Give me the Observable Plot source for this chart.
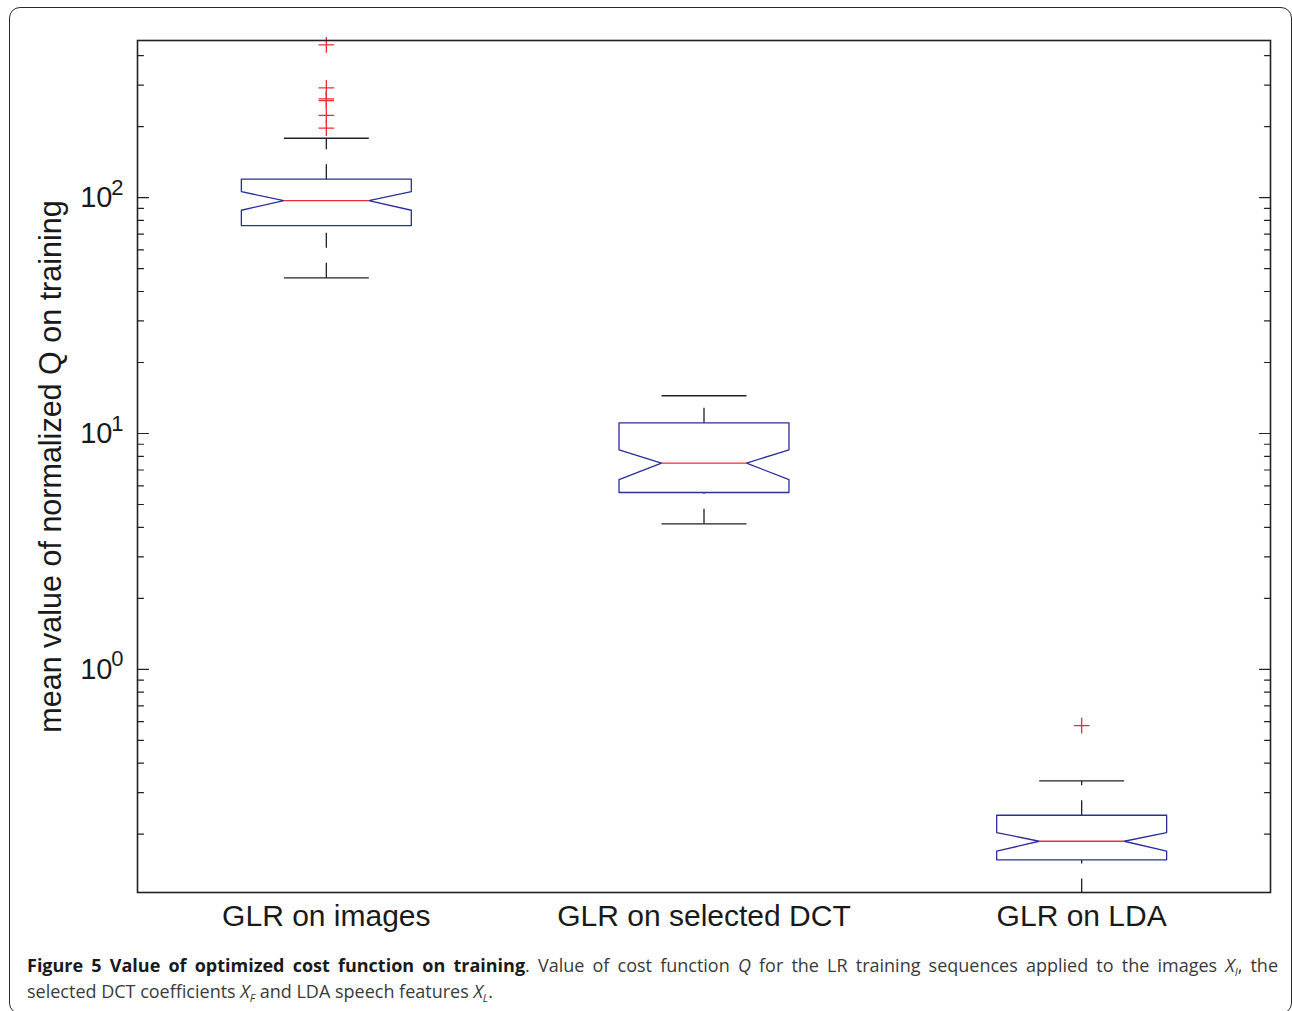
<!DOCTYPE html>
<html>
<head>
<meta charset="utf-8">
<script src="https://cdn.jsdelivr.net/npm/d3@7"></script>
<script src="https://cdn.jsdelivr.net/npm/@observablehq/plot@0.6"></script>
<style>
  body { margin: 0; background: #fff; }
  #wrap { position: relative; width: 1292px; height: 1011px; overflow: hidden; background: #fff; }
  #border { position: absolute; left: 9px; top: 7px; width: 1283px; height: 1007px; border: 1.6px solid #2a2a2a; border-radius: 11px; box-sizing: border-box; }
  #chart { position: absolute; left: 0; top: 0; }
  #caption { position: absolute; left: 27px; top: 952px; width: 1251px; font-family: "Open Sans", "Noto Sans", sans-serif; font-size: 18px; color: #3a3a3a; line-height: 26px; }
  #caption .l1 { text-align: justify; text-align-last: justify; }
  #caption b { color: #1a1a1a; font-weight: 700; }
  #caption sub { font-size: 11px; vertical-align: -4px; line-height: 0; }
</style>
</head>
<body>
<div id="wrap">
  <div id="border"></div>
  <div id="chart"></div>
  <div id="caption">
    <div class="l1"><b>Figure 5 Value of optimized cost function on training</b>. Value of cost function <i>Q</i> for the LR training sequences applied to the images <i>X<sub>I</sub></i>, the</div>
    <div class="l2">selected DCT coefficients <i>X<sub>F</sub></i> and LDA speech features <i>X<sub>L</sub></i>.</div>
  </div>
</div>
<script>
// ---- data ----
const categories = ["GLR on images", "GLR on selected DCT", "GLR on LDA"];
const q1 = [76.1, 5.62, 0.1557];
const median = [97.1, 7.49, 0.1867];
const q3 = [119.7, 11.10, 0.2406];
const notchLow = [88.4, 6.37, 0.1694];
const notchHigh = [106.0, 8.53, 0.2033];
const whiskerLow = [45.7, 4.14, 0.112];
const whiskerHigh = [178.5, 14.45, 0.3366];
const outlierGroup = [0, 0, 0, 0, 0, 0, 2];
const outlierValue = [444, 292, 262, 258, 223, 197, 0.577];
const majorTicks = [1, 10, 100];
const minorTicks = [0.2, 0.3, 0.4, 0.5, 0.6, 0.7, 0.8, 0.9, 2, 3, 4, 5, 6, 7, 8, 9, 20, 30, 40, 50, 60, 70, 80, 90, 200, 300, 400];
const yDomain = [0.1132, 463.6];
const yLabel = "mean value of normalized Q on training";

// ---- styles ----
const BOX = 0.225, NOTCH = 0.1125;
const blue = "#2b2f9c", red = "#ee2d38", ink = "#222";
const font = "'Liberation Sans', Arial, sans-serif";

const idx = categories.map((_, i) => i);
const boxPoints = idx.flatMap(i => {
  const c = i + 1;
  const pts = [
    [c - BOX, q3[i]], [c + BOX, q3[i]], [c + BOX, notchHigh[i]], [c + NOTCH, median[i]],
    [c + BOX, notchLow[i]], [c + BOX, q1[i]], [c - BOX, q1[i]], [c - BOX, notchLow[i]],
    [c - NOTCH, median[i]], [c - BOX, notchHigh[i]], [c - BOX, q3[i]]
  ];
  return pts.map(([x, y]) => ({g: i, x, y}));
});
const outliers = outlierValue.map((v, k) => ({x: outlierGroup[k] + 1, y: v}));
const tickShape = {draw(context, l) { context.moveTo(0, 0); context.lineTo(0, -l); }};

const chart = Plot.plot({
  width: 1292,
  height: 945,
  marginLeft: 137,
  marginRight: 22,
  marginTop: 40,
  marginBottom: 53,
  style: {fontFamily: font, background: "transparent", color: "#1a1a1a"},
  x: {type: "linear", domain: [0.5, 3.5], axis: null},
  y: {type: "log", domain: yDomain, axis: null},
  marks: [
    // whiskers (dashed)
    Plot.link(idx, {x1: i => i + 1, x2: i => i + 1, y1: i => q3[i], y2: i => whiskerHigh[i], stroke: ink, strokeWidth: 1.3, strokeDasharray: "15,15", clip: true}),
    Plot.link(idx, {x1: i => i + 1, x2: i => i + 1, y1: i => whiskerLow[i], y2: i => q1[i], stroke: ink, strokeWidth: 1.3, strokeDasharray: "15,15", clip: true}),
    // whisker caps
    Plot.link(idx, {x1: i => i + 1 - NOTCH, x2: i => i + 1 + NOTCH, y1: i => whiskerHigh[i], y2: i => whiskerHigh[i], stroke: ink, strokeWidth: 1.3, clip: true}),
    Plot.link(idx, {x1: i => i + 1 - NOTCH, x2: i => i + 1 + NOTCH, y1: i => whiskerLow[i], y2: i => whiskerLow[i], stroke: ink, strokeWidth: 1.3, clip: true}),
    // notched boxes
    Plot.line(boxPoints, {x: "x", y: "y", z: "g", stroke: blue, strokeWidth: 1.3}),
    // medians
    Plot.link(idx, {x1: i => i + 1 - NOTCH, x2: i => i + 1 + NOTCH, y1: i => median[i], y2: i => median[i], stroke: red, strokeWidth: 1.4}),
    // outliers
    Plot.dot(outliers, {x: "x", y: "y", symbol: "plus", r: 5.1, stroke: red, strokeWidth: 1.3}),
    // frame
    Plot.frame({stroke: ink, strokeWidth: 1.6}),
    // y ticks (inward, both sides)
    Plot.vector(majorTicks, {y: d => d, frameAnchor: "left", rotate: 90, length: 11, anchor: "start", shape: tickShape, stroke: ink, strokeWidth: 1.2}),
    Plot.vector(minorTicks, {y: d => d, frameAnchor: "left", rotate: 90, length: 6, anchor: "start", shape: tickShape, stroke: ink, strokeWidth: 1.2}),
    Plot.vector(majorTicks, {y: d => d, frameAnchor: "right", rotate: -90, length: 11, anchor: "start", shape: tickShape, stroke: ink, strokeWidth: 1.2}),
    Plot.vector(minorTicks, {y: d => d, frameAnchor: "right", rotate: -90, length: 6, anchor: "start", shape: tickShape, stroke: ink, strokeWidth: 1.2}),
    // y tick labels 10^n
    Plot.text(majorTicks, {y: d => d, frameAnchor: "left", text: () => "10", dx: -25, textAnchor: "end", fontSize: 29, fill: "#1a1a1a"}),
    Plot.text(majorTicks, {y: d => d, frameAnchor: "left", text: d => String(Math.round(Math.log10(d))), dx: -14, dy: -10, textAnchor: "end", fontSize: 22, fill: "#1a1a1a"}),
    // x category labels
    Plot.text(idx, {x: i => i + 1, frameAnchor: "bottom", text: i => categories[i], dy: 33, fontSize: 30, fill: "#1a1a1a"}),
    // y axis label
    Plot.text([yLabel], {frameAnchor: "left", text: d => d, rotate: -90, dx: -86, textAnchor: "middle", fontSize: 30.5, fill: "#1a1a1a"})
  ]
});
document.getElementById("chart").appendChild(chart);
</script>
</body>
</html>
